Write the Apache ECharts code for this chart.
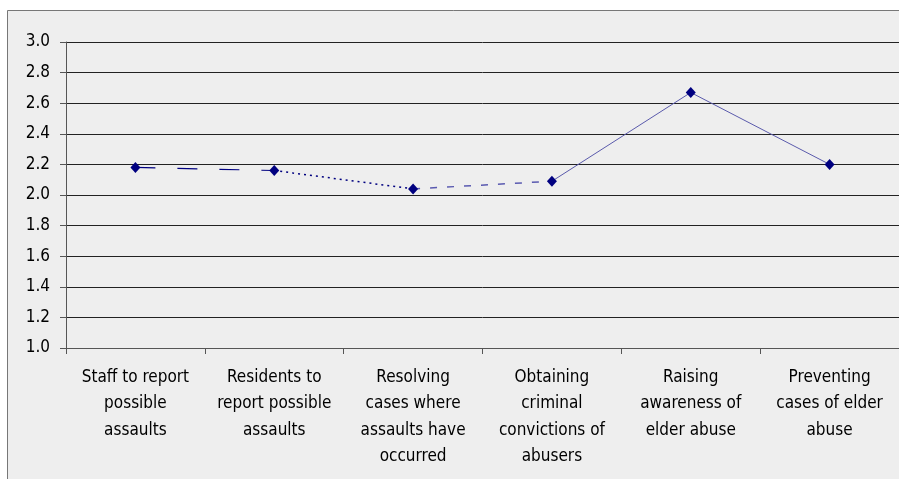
<!DOCTYPE html>
<html>
<head>
<meta charset="utf-8">
<script src="https://cdn.jsdelivr.net/npm/echarts@6/dist/echarts.min.js"></script>
<style>
  html, body { margin: 0; padding: 0; background: #fff; }
  #main { width: 899px; height: 479px; }
</style>
</head>
<body>
<div id="main"></div>
<script type="text/javascript">
    // category labels (line breaks as in the picture)
    var categories = [
        'Staff to report\npossible\nassaults',
        'Residents to\nreport possible\nassaults',
        'Resolving\ncases where\nassaults have\noccurred',
        'Obtaining\ncriminal\nconvictions of\nabusers',
        'Raising\nawareness of\nelder abuse',
        'Preventing\ncases of elder\nabuse'
    ];
    var values = [2.18, 2.16, 2.04, 2.09, 2.67, 2.20];
    var yTicks = [1.0, 1.2, 1.4, 1.6, 1.8, 2.0, 2.2, 2.4, 2.6, 2.8, 3.0];

    var font = "'DejaVu Sans Condensed', 'DejaVu Sans', sans-serif";

    // each segment of the line has its own dash style
    var segStyles = [
        { color: '#000080', width: 1.2, type: [20, 22] },
        { color: '#000080', width: 1.5, type: [2, 4] },
        { color: '#5a5ab0', width: 1.5, type: [7, 10] },
        { color: '#5a5aac', width: 1, type: 'solid' },
        { color: '#5a5aac', width: 1, type: 'solid' }
    ];

    var series = [];
    for (let i = 0; i < values.length - 1; i++) {
        let d = values.map(function (v, k) { return (k === i || k === i + 1) ? v : null; });
        series.push({
            type: 'line',
            data: d,
            symbol: 'none',
            silent: true,
            lineStyle: segStyles[i],
            z: 2
        });
    }
    // markers
    series.push({
        type: 'line',
        data: values,
        symbol: 'diamond',
        symbolSize: [10, 11],
        lineStyle: { width: 0 },
        itemStyle: { color: '#000080' },
        z: 3
    });

    var myChart = echarts.init(document.getElementById('main'));
    var option = {
        animation: false,
        textStyle: { fontFamily: font },
        graphic: [{
            type: 'rect',
            shape: { x: 7.5, y: 10.5, width: 900, height: 480 },
            style: { fill: '#eeeeee', stroke: '#777', lineWidth: 1 },
            z: -10
        }],
        grid: { left: 66, top: 42, right: 0, bottom: 131 },
        xAxis: {
            type: 'category',
            data: categories,
            boundaryGap: true,
            axisLine: { lineStyle: { color: '#555', width: 1 } },
            axisTick: { show: true, length: 6, lineStyle: { color: '#555' } },
            axisLabel: {
                interval: 0,
                color: '#000',
                fontSize: 17,
                lineHeight: 26.5,
                margin: 16,
                align: 'center'
            }
        },
        yAxis: {
            type: 'value',
            min: yTicks[0],
            max: yTicks[yTicks.length - 1],
            interval: 0.2,
            axisLine: { show: true, lineStyle: { color: '#555' } },
            axisTick: { show: true, inside: false, length: 6, lineStyle: { color: '#555' } },
            splitLine: { lineStyle: { color: '#222', width: 1 } },
            axisLabel: {
                color: '#000',
                fontSize: 17,
                margin: 16,
                formatter: function (v) { return v.toFixed(1); }
            }
        },
        series: series
    };
    myChart.setOption(option, true);
</script>
</body>
</html>
